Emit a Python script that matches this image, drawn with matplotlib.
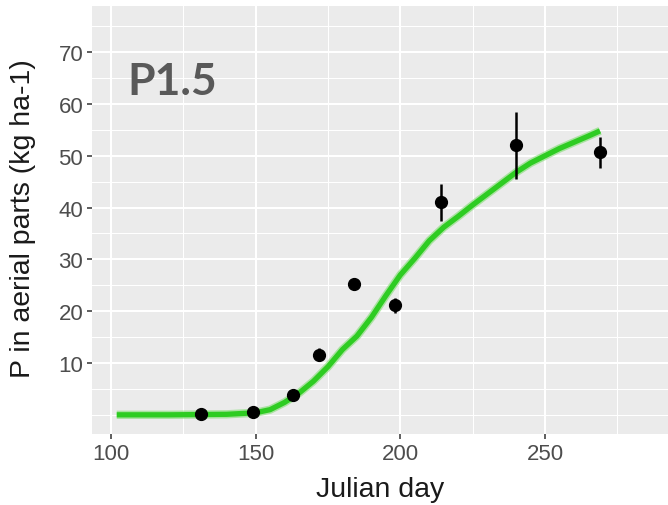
import matplotlib
matplotlib.use("Agg")
import matplotlib.pyplot as plt
from matplotlib.ticker import FixedLocator
import numpy as np

# Simulated curve
sim_day = [102, 110, 120, 130, 140, 150, 155, 160, 165, 170, 175, 180, 185, 190,
           195, 200, 205, 210, 215, 220, 225, 230, 235, 240, 245, 250, 255, 260, 265, 269]
sim_p = [0.0, 0.0, 0.0, 0.05, 0.1, 0.4, 1.0, 2.4, 4.2, 6.5, 9.3, 12.6, 15.2, 18.8,
         23.0, 27.0, 30.2, 33.6, 36.2, 38.3, 40.5, 42.6, 44.7, 46.8, 48.6, 50.0, 51.4, 52.6, 53.8, 54.8]

# Observations
obs_day = [131, 149, 163, 172, 184, 198, 214, 240, 269]
obs_p = [0.2, 0.6, 3.9, 11.6, 25.3, 21.1, 41.0, 52.0, 50.7]
obs_err = [0.5, 0.5, 0.6, 1.3, 0.8, 1.4, 3.5, 6.4, 3.0]

x_ticks = [100, 150, 200, 250]
x_minor = [125, 175, 225, 275]
y_ticks = [10, 20, 30, 40, 50, 60, 70]
y_minor = [0, 5, 15, 25, 35, 45, 55, 65, 75]

W, H = 668, 506
fig = plt.figure(figsize=(W / 100, H / 100), dpi=100)
ax = fig.add_axes([92 / W, 1 - 435 / H, (668 - 92) / W, (435 - 7) / H])
ax.set_facecolor('#EBEBEB')
for s in ax.spines.values():
    s.set_visible(False)

ax.set_xlim(93.45, 292.5)
ax.set_ylim(-3.7, 78.9)

ax.xaxis.set_major_locator(FixedLocator(x_ticks))
ax.xaxis.set_minor_locator(FixedLocator(x_minor))
ax.yaxis.set_major_locator(FixedLocator(y_ticks))
ax.yaxis.set_minor_locator(FixedLocator(y_minor))
ax.grid(which='major', color='white', linewidth=1.5)
ax.grid(which='minor', color='white', linewidth=0.75)
ax.set_axisbelow(True)
ax.tick_params(which='major', length=3.3, width=1.1, color='#333333',
               labelcolor='#4D4D4D', labelsize=16, pad=3)
ax.tick_params(which='minor', length=0)

# simulated line with light band
ax.plot(sim_day, sim_p, color='#7FDD70', linewidth=6.0, alpha=0.6,
        solid_capstyle='butt', zorder=2)
ax.plot(sim_day, sim_p, color='#2ECC22', linewidth=3.8,
        solid_capstyle='butt', zorder=3)

ax.errorbar(obs_day, obs_p, yerr=obs_err, fmt='o', color='black',
            markersize=8.5, elinewidth=1.8, capsize=0, zorder=4)

ax.text(0.0608, 0.794, 'P1.5', transform=ax.transAxes, fontsize=32,
        fontweight='bold', family=['Lato', 'DejaVu Sans'], color='#595959',
        ha='left', va='baseline')

ax.set_xlabel('Julian day', fontsize=20.5, color='#1A1A1A',
              family=['Liberation Sans', 'DejaVu Sans'])
ax.xaxis.set_label_coords(0.5, -0.098)
ax.xaxis.label.set_va('top')
ax.set_ylabel('P in aerial parts (kg ha-1)', fontsize=20.5, color='#1A1A1A',
              family=['Liberation Sans', 'DejaVu Sans'])
ax.yaxis.set_label_coords(-0.097, 0.505)

for lab in ax.get_xticklabels() + ax.get_yticklabels():
    lab.set_family(['Liberation Sans', 'DejaVu Sans'])

fig.savefig('out.png', dpi=100)
